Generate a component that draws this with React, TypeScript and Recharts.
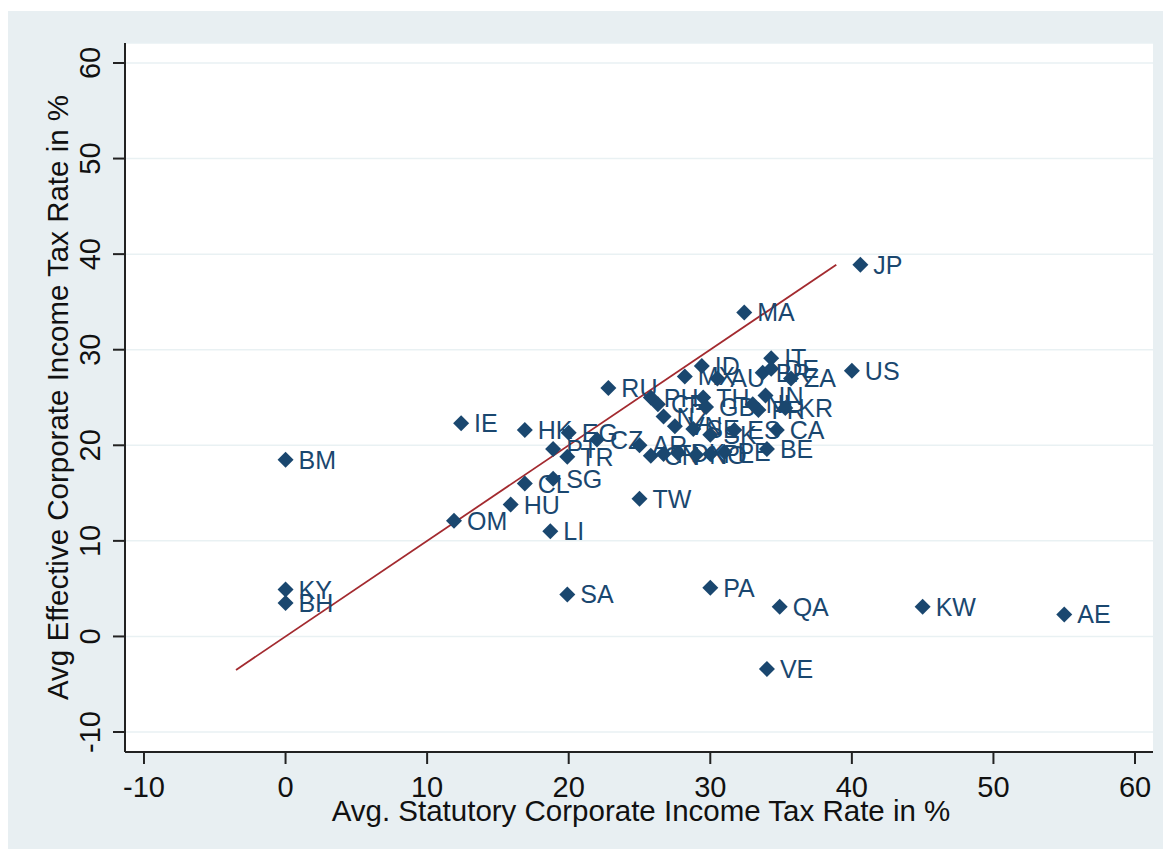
import React from 'react';
import {
  ScatterChart,
  Scatter,
  XAxis,
  YAxis,
  CartesianGrid,
  ReferenceLine,
  Label
} from 'recharts';

// country codes and the two rates
const countries = [
  'JP', 'MA', 'US', 'IT', 'BR', 'DE', 'ZA', 'ID', 'MX', 'AU',
  'PH', 'CR', 'RU', 'TH', 'IN', 'GB', 'FR', 'KR', 'NL', 'NZ',
  'VN', 'SE', 'SK', 'ES', 'CA', 'BE', 'AR', 'CN', 'FI', 'DK',
  'NO', 'PL', 'PE', 'CZ', 'EG', 'HK', 'PT', 'TR', 'IE', 'BM',
  'CL', 'SG', 'TW', 'HU', 'OM', 'LI', 'KY', 'BH', 'SA', 'PA',
  'QA', 'KW', 'AE', 'VE'
];
const statutoryRates = [
  40.6, 32.4, 40.0, 34.3, 33.7, 34.3, 35.7, 29.4, 28.2, 30.5,
  25.8, 26.3, 22.8, 29.5, 33.9, 29.7, 33.4, 35.3, 33.0, 26.7,
  27.5, 28.8, 30.0, 31.7, 34.7, 34.0, 25.0, 25.8, 26.7, 27.7,
  29.0, 30.0, 31.0, 22.0, 20.0, 16.9, 18.9, 19.9, 12.4, 0.0,
  16.9, 18.9, 25.0, 15.9, 11.9, 18.7, 0.0, 0.0, 19.9, 30.0,
  34.9, 45.0, 55.0, 34.0
];
const effectiveRates = [
  38.9, 33.9, 27.8, 29.1, 27.6, 28.0, 27.0, 28.3, 27.2, 27.0,
  25.0, 24.3, 26.0, 25.0, 25.2, 24.0, 23.7, 23.9, 24.3, 23.0,
  22.0, 21.7, 21.1, 21.6, 21.6, 19.6, 20.0, 18.9, 19.1, 19.2,
  19.0, 19.1, 19.3, 20.6, 21.3, 21.6, 19.6, 18.8, 22.3, 18.5,
  16.0, 16.5, 14.4, 13.8, 12.1, 11.0, 4.9, 3.5, 4.4, 5.1,
  3.1, 3.1, 2.3, -3.4
];

const xTicks = [-10, 0, 10, 20, 30, 40, 50, 60];
const yTicks = [-10, 0, 10, 20, 30, 40, 50, 60];

// 45 degree line
const fitX = [-3.5, 38.9];
const fitY = [-3.5, 38.9];

const NAVY = '#1a476f';
const FONT = '"Liberation Sans", Arial, sans-serif';

const points = countries.map((code, i) => ({
  code,
  x: statutoryRates[i],
  y: effectiveRates[i]
}));

const Diamond = (props: any) => {
  const { cx, cy, payload } = props;
  const r = 8;
  return (
    <g>
      <path
        d={`M${cx},${cy - r}L${cx + r},${cy}L${cx},${cy + r}L${cx - r},${cy}Z`}
        fill={NAVY}
      />
      <text x={cx + 13} y={cy} dy="0.36em" fontSize={25} fill={NAVY} fontFamily={FONT}>
        {payload.code}
      </text>
    </g>
  );
};

const XTick = ({ x, y, payload }: any) => (
  <text x={x} y={y + 33} textAnchor="middle" fontSize={29} fill="#111" fontFamily={FONT}>
    {payload.value}
  </text>
);

const YTick = ({ x, y, payload }: any) => {
  const tx = x - 23;
  return (
    <text
      x={tx}
      y={y}
      transform={`rotate(-90 ${tx} ${y})`}
      textAnchor="middle"
      dy="0.36em"
      fontSize={29}
      fill="#111"
      fontFamily={FONT}
    >
      {payload.value}
    </text>
  );
};

const XTitle = (props: any) => {
  const { x, width } = props.viewBox;
  return (
    <text x={x + width / 2 + 2} y={810} textAnchor="middle" fontSize={29.5} fill="#111" fontFamily={FONT}>
      Avg. Statutory Corporate Income Tax Rate in %
    </text>
  );
};

const YTitle = (props: any) => {
  const { y, height } = props.viewBox;
  const cx = 49;
  const cy = y + height / 2;
  return (
    <text
      x={cx}
      y={cy}
      transform={`rotate(-90 ${cx} ${cy})`}
      textAnchor="middle"
      dy="0.36em"
      fontSize={29.5}
      fill="#111"
      fontFamily={FONT}
    >
      Avg Effective Corporate Income Tax Rate in %
    </text>
  );
};

export default function App() {
  return (
    <div style={{ position: 'absolute', left: 8, top: 11, width: 1155, height: 838, background: '#e8eff2' }}>
      <ScatterChart
        width={1155}
        height={838}
        margin={{ top: 32, right: 10, left: 0, bottom: 0 }}
      >
        <CartesianGrid vertical={false} fill="#ffffff" fillOpacity={1} stroke="#e9f1f3" strokeWidth={1.5} />
        <XAxis
          type="number"
          dataKey="x"
          domain={[-11.34, 61.27]}
          ticks={xTicks}
          allowDataOverflow
          height={97}
          tickSize={12}
          tickMargin={0}
          tick={<XTick />}
          axisLine={{ stroke: '#222', strokeWidth: 2 }}
          tickLine={{ stroke: '#222', strokeWidth: 2 }}
        >
          <Label content={<XTitle />} />
        </XAxis>
        <YAxis
          type="number"
          dataKey="y"
          domain={[-12.09, 62.09]}
          ticks={yTicks}
          allowDataOverflow
          width={117}
          tickSize={12}
          tickMargin={0}
          tick={<YTick />}
          axisLine={{ stroke: '#222', strokeWidth: 2 }}
          tickLine={{ stroke: '#222', strokeWidth: 2 }}
        >
          <Label content={<YTitle />} />
        </YAxis>
        <Scatter data={points} shape={<Diamond />} isAnimationActive={false} />
        <ReferenceLine
          segment={[
            { x: fitX[0], y: fitY[0] },
            { x: fitX[1], y: fitY[1] }
          ]}
          stroke="#a32a2f"
          strokeWidth={1.8}
        />
      </ScatterChart>
    </div>
  );
}
